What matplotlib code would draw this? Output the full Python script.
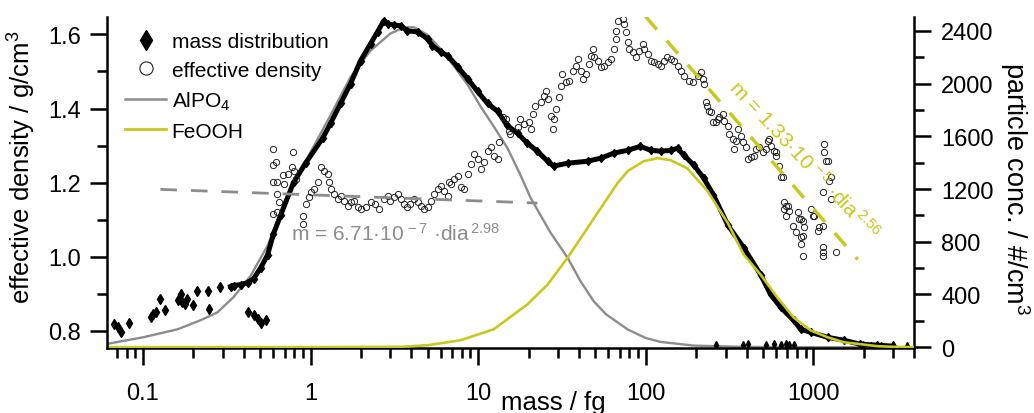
import numpy as np
import matplotlib
matplotlib.use('Agg')
import matplotlib.pyplot as plt
from matplotlib.lines import Line2D
from matplotlib.ticker import FixedLocator, NullFormatter

plt.rcParams['font.family'] = ['Liberation Sans', 'DejaVu Sans']
plt.rcParams['mathtext.fontset'] = 'custom'
plt.rcParams['mathtext.rm'] = 'Liberation Sans'
plt.rcParams['mathtext.it'] = 'Liberation Sans:italic'
plt.rcParams['mathtext.default'] = 'regular'

gray = '#8c8c8c'
yellow = '#c8c81e'

# mass distribution (particle conc. / #/cm3 vs mass / fg), dense part
md_mass = [0.333, 0.347, 0.382, 0.421, 0.457, 0.503, 0.554, 0.601, 0.662, 0.792,
           0.934, 1.18, 1.316, 1.511, 1.734, 1.989, 2.28, 2.51, 2.73, 2.88,
           3.13, 3.45, 3.79, 4.35, 4.99, 5.34, 5.97, 6.58, 7.55, 8.65,
           9.93, 11.4, 13.1, 14.9, 17.2, 19.7, 22.6, 26.0, 28.2, 34.2,
           45.1, 53.9, 64.4, 78.1, 93.0, 107, 123, 141, 155, 169,
           194, 222, 254, 309, 385, 485, 557, 640, 764, 842,
           966, 1221, 1518, 1913, 2413, 3000]
md_conc = [460, 468, 475, 490, 520, 600, 700, 860, 1000, 1250,
           1396, 1585, 1698, 1849, 2000, 2174, 2302, 2392, 2475, 2453,
           2445, 2438, 2400, 2392, 2340, 2287, 2242, 2211, 2128, 2038,
           1940, 1849, 1789, 1683, 1623, 1547, 1487, 1411, 1374, 1396,
           1411, 1434, 1472, 1494, 1524, 1494, 1487, 1494, 1509, 1457,
           1381, 1283, 1155, 928, 755, 551, 400, 302, 204, 136,
           113, 75, 53, 23, 15, 8]

# isolated mass distribution points at small masses
sc_mass = [0.0667, 0.0705, 0.0744, 0.083, 0.111, 0.114, 0.119, 0.126, 0.136, 0.161,
           0.168, 0.172, 0.179, 0.184, 0.200, 0.211, 0.243, 0.249, 0.290,
           0.421, 0.457, 0.483, 0.503, 0.539]
sc_conc = [174, 151, 113, 181, 226, 249, 264, 362, 279, 355,
           400, 340, 325, 362, 317, 423, 430, 287, 453,
           264, 242, 211, 181, 204]

# mass distribution points near zero at large masses
bl_mass = [262, 380, 406, 521, 581, 640, 685, 714, 764, 1970, 2200, 2550, 3000, 3650]
bl_conc = [20, 15, 25, 20, 25, 20, 25, 15, 20, 15, 10, 12, 15, 12]

# AlPO4 mode
al_mass = [0.061, 0.1, 0.161, 0.22, 0.278, 0.347, 0.438, 0.554, 0.635, 0.76,
           1.0, 1.316, 1.734, 2.28, 3.0, 3.59, 4.12, 4.99, 5.97, 7.14,
           8.65, 10.35, 12.4, 15.0, 17.9, 20.6, 27.1, 34.2, 40.9, 48.9,
           58.0, 78.1, 100, 123, 194, 400, 1000, 4000]
al_conc = [25, 75, 136, 204, 264, 380, 540, 770, 960, 1200,
           1480, 1760, 2050, 2250, 2380, 2425, 2428, 2370, 2264, 2136,
           1992, 1826, 1675, 1509, 1306, 1132, 868, 679, 500, 350,
           250, 135, 70, 40, 12, 2, 0, 0]

# FeOOH mode
fe_mass = [0.061, 1.0, 3.45, 4.99, 7.86, 12.4, 19.7, 26.0, 34.2, 45.1,
           52.0, 59.3, 68.0, 78.1, 97.3, 118, 141, 177, 234, 309,
           385, 485, 612, 764, 966, 1221, 1518, 1913, 2413, 3000, 4000]
fe_conc = [0, 0, 3, 15, 53, 136, 325, 475, 679, 906,
           1025, 1132, 1245, 1336, 1411, 1434, 1419, 1358, 1185, 943,
           702, 551, 377, 226, 128, 75, 38, 23, 8, 3, 1]

# effective density / g/cm3 vs mass / fg
ed_mass = [0.601, 0.781, 0.618, 0.601, 0.681, 0.729, 0.770, 0.792, 0.593, 0.635,
           0.690, 0.814, 0.635, 0.644, 0.593, 0.896, 0.934, 0.973, 1.0, 1.042,
           1.101, 1.147, 1.196, 1.263, 1.281, 1.316, 1.372, 1.449, 1.511, 1.574,
           1.663, 1.734, 1.806, 1.908, 1.989, 2.13, 2.28, 2.44, 2.55, 2.73,
           2.88, 3.00, 3.13, 3.31, 3.45, 3.59, 3.79, 3.95, 4.12, 4.35,
           4.54, 4.73, 4.99, 5.20, 5.42, 5.73, 5.97, 6.22, 6.58, 6.85,
           7.14, 7.55, 0.635, 0.896,
           6.67, 7.86, 8.19, 8.65, 9.02, 9.40, 9.93, 10.35, 10.8, 11.4,
           11.9, 12.4, 13.1, 13.3, 14.0, 14.6, 15.2, 15.6, 17.2, 17.9,
           18.7, 20.0, 20.6, 21.4, 22.0, 23.6, 24.6, 25.3, 26.0, 27.1,
           27.9, 28.2, 29.0, 30.3, 31.1, 31.9, 33.3, 34.7, 36.7, 38.2,
           39.3, 40.9, 42.1, 43.8, 45.7, 47.0, 48.3, 48.9, 51.7, 53.9,
           56.1, 59.3, 61.8, 64.4, 66.2, 66.2, 68.1, 72.9, 73.9, 76.0,
           78.1, 79.2, 83.6, 87.1, 90.8, 96.0, 97.3, 103, 107, 112,
           118, 123, 128, 135, 141, 147, 155, 162, 169, 181,
           191, 204, 213, 222, 238, 251, 269,
           219, 228, 234, 244, 262, 273, 288, 292, 309, 313,
           331, 345, 335, 354, 369, 379, 395, 406, 424, 441,
           454, 473, 500, 521, 542, 557, 581, 597, 622, 640,
           1156, 1156, 1188, 1238, 1140, 667, 685,
           535, 597, 658, 667, 685, 714, 808, 819, 754, 786,
           865, 877, 865, 842, 966, 993, 1079, 1140, 865, 1140,
           1140, 1140, 1362, 1221, 1272, 1272, 842, 1007, 1064, 842, 704]
ed_dens = [1.291, 1.282, 1.255, 1.247, 1.220, 1.223, 1.242, 1.231, 1.201, 1.201,
           1.196, 1.209, 1.169, 1.147, 1.115, 1.109, 1.142, 1.161, 1.174, 1.182,
           1.201, 1.242, 1.231, 1.223, 1.201, 1.182, 1.169, 1.155, 1.164, 1.150,
           1.136, 1.147, 1.150, 1.134, 1.128, 1.134, 1.147, 1.142, 1.128, 1.155,
           1.164, 1.150, 1.161, 1.169, 1.155, 1.142, 1.134, 1.142, 1.155, 1.147,
           1.136, 1.128, 1.134, 1.150, 1.169, 1.182, 1.191, 1.177, 1.164, 1.196,
           1.209, 1.218, 1.120, 1.088,
           1.201, 1.188, 1.182, 1.223, 1.250, 1.277, 1.264, 1.236, 1.255, 1.285,
           1.296, 1.272, 1.264, 1.309, 1.377, 1.372, 1.339, 1.331, 1.350, 1.372,
           1.358, 1.364, 1.345, 1.385, 1.407, 1.418, 1.434, 1.447, 1.426, 1.380,
           1.345, 1.372, 1.399, 1.431, 1.461, 1.493, 1.472, 1.474, 1.501, 1.515,
           1.534, 1.501, 1.480, 1.493, 1.520, 1.542, 1.561, 1.539, 1.528, 1.512,
           1.515, 1.526, 1.534, 1.561, 1.588, 1.609, 1.636, 1.642, 1.628, 1.607,
           1.580, 1.561, 1.553, 1.539, 1.555, 1.574, 1.561, 1.547, 1.528, 1.526,
           1.520, 1.515, 1.528, 1.539, 1.534, 1.528, 1.515, 1.501, 1.488, 1.474,
           1.472, 1.488, 1.499, 1.466, 1.393, 1.364, 1.372,
           1.480, 1.418, 1.407, 1.391, 1.364, 1.377, 1.385, 1.366, 1.353, 1.331,
           1.318, 1.312, 1.291, 1.345, 1.326, 1.309, 1.296, 1.264, 1.269, 1.272,
           1.291, 1.296, 1.282, 1.291, 1.318, 1.299, 1.285, 1.272, 1.245, 1.215,
           1.304, 1.282, 1.258, 1.204, 1.174, 1.147, 1.136,
           1.312, 1.282, 1.215, 1.128, 1.109, 1.123, 1.120, 1.101, 1.082, 1.066,
           1.096, 1.080, 1.055, 1.034, 1.128, 1.109, 1.080, 1.082, 1.001, 1.026,
           1.012, 1.001, 1.012, 1.258, 1.215, 1.155, 1.101, 1.109, 1.069, 1.053, 1.136]

# power-law fits of effective density
fit_al_mass = [0.127, 22.6]
fit_al_dens = [1.182, 1.145]
fit_fe_mass = [100, 1845]
fit_fe_dens = [1.648, 0.993]

fig = plt.figure(figsize=(10.34, 4.14), dpi=100)
ax = fig.add_axes([0.1035, 0.157, 0.7805, 0.7995])
ax2 = ax.twinx()
ax.set_zorder(ax2.get_zorder() + 1)
ax.patch.set_visible(False)

# right axis: number distribution and lognormal modes
ax2.plot(al_mass, al_conc, color=gray, lw=1.7, zorder=2)
ax2.plot(fe_mass, fe_conc, color=yellow, lw=1.9, zorder=3)
ax2.plot(md_mass, md_conc, color='k', lw=3.6, marker='d', ms=4.5, zorder=2.5)
ax2.plot(sc_mass, sc_conc, ls='none', color='k', marker='d', ms=5, zorder=2.5)
ax2.plot(bl_mass, bl_conc, ls='none', color='k', marker='d', ms=4, zorder=2.5)

# left axis: effective density and fits
ax.plot(ed_mass, ed_dens, ls='none', marker='o', ms=4.5, mfc='none',
        mec='#222222', mew=0.7)
ax.plot(fit_al_mass, fit_al_dens, color=gray, lw=2, dashes=(6, 5))
ax.plot(fit_fe_mass, fit_fe_dens, color=yellow, lw=2.5, dashes=(4.9, 4.3))

ax.text(0.76, 1.045, r'm = 6.71·10$^{\,-7}$ ·dia$^{\,2.98}$', color=gray,
        fontsize=15, ha='left', va='baseline')
ax.text(885, 1.263, r'm = 1.33·10$^{\,-5}$ ·dia$^{\,2.56}$', color=yellow,
        fontsize=15, rotation=-47, ha='center', va='center')

ax.set_xscale('log')
ax.set_xlim(0.061, 4000)
ax.set_ylim(0.754, 1.647)
ax2.set_ylim(-6, 2505)

ax.set_xticks([0.1, 1, 10, 100, 1000])
ax.set_xticklabels(['0.1', '1', '10', '100', '1000'])
ax.xaxis.set_minor_formatter(NullFormatter())
ax.set_yticks([0.8, 1.0, 1.2, 1.4, 1.6])
ax.set_yticklabels(['0.8', '1.0', '1.2', '1.4', '1.6'])
ax.yaxis.set_minor_locator(FixedLocator([0.9, 1.1, 1.3, 1.5]))
ax2.set_yticks(np.arange(0, 2401, 400))
ax2.set_yticklabels([str(v) for v in range(0, 2401, 400)])
ax2.yaxis.set_minor_locator(FixedLocator(np.arange(200, 2401, 400)))

for a in (ax, ax2):
    a.tick_params(which='major', length=12.5, width=1.8, labelsize=17, direction='out')
    a.tick_params(which='minor', length=7, width=1.8, direction='out')
    a.spines['top'].set_visible(False)
    for s in a.spines.values():
        s.set_linewidth(1.8)
ax.tick_params(axis='x', which='major', pad=12)
ax.tick_params(axis='y', which='major', pad=6)
ax2.tick_params(axis='y', which='major', pad=7)
ax.spines['right'].set_visible(False)
ax.spines['bottom'].set_visible(False)
ax2.spines['left'].set_visible(False)

ax.text(0.553, -0.128, 'mass / fg', transform=ax.transAxes, fontsize=18.5,
        ha='center', va='top')
fig.text(0.021, 0.597, 'effective density / g/cm$^3$', rotation=90,
         fontsize=18.5, ha='center', va='center')
fig.text(0.982, 0.545, 'particle conc. / #/cm$^3$', rotation=-90,
         fontsize=19.5, ha='center', va='center')

handles = [Line2D([], [], ls='none', marker='d', ms=10, color='k'),
           Line2D([], [], ls='none', marker='o', ms=9.5, mfc='none', mec='#222222', mew=0.8),
           Line2D([], [], color=gray, lw=1.8),
           Line2D([], [], color=yellow, lw=2)]
labels = ['mass distribution', 'effective density', 'AlPO$_4$', 'FeOOH']
ax.legend(handles, labels, loc='upper left', bbox_to_anchor=(0.022, 0.955),
          frameon=False, fontsize=15, borderpad=0, borderaxespad=0,
          handlelength=2.0, handletextpad=0.25, labelspacing=0.47)

fig.savefig('out.png', dpi=100)
